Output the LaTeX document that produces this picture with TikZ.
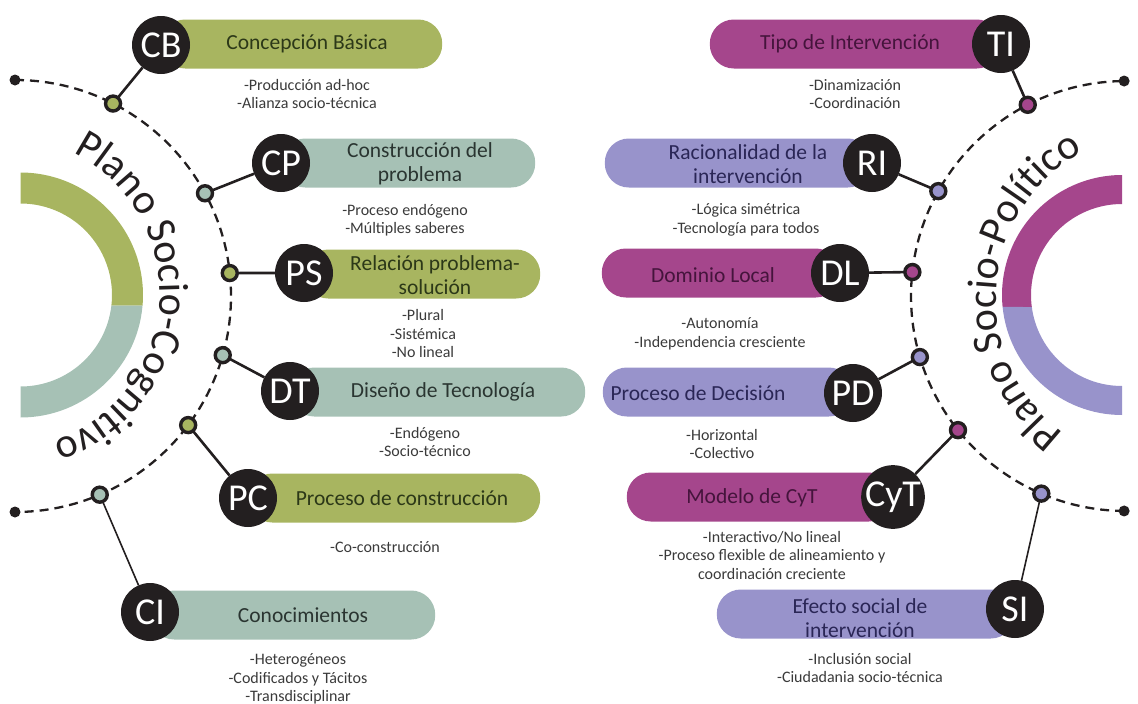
\documentclass[tikz,border=0pt]{standalone}
\usepackage{fontspec}
\setmainfont{Carlito}
\usetikzlibrary{calc,decorations.text}

\definecolor{cgreen}{HTML}{A8B560}
\definecolor{cteal}{HTML}{A6C1B5}
\definecolor{cmag}{HTML}{A5468C}
\definecolor{clav}{HTML}{9893CB}
\definecolor{cdark}{HTML}{231F20}
\definecolor{tgreen}{HTML}{2C3818}
\definecolor{tteal}{HTML}{2A3531}
\definecolor{tmag}{HTML}{45143C}
\definecolor{tlav}{HTML}{2A2656}
\definecolor{csub}{HTML}{3A3A3A}

\newcommand{\curvefont}{\fontsize{42}{44}\selectfont\color{cdark}}

\tikzset{
  bigc/.style={circle, fill=cdark, minimum size=58pt, inner sep=0pt, outer sep=0pt,
               text=white, font=\fontsize{38}{40}\selectfont},
  smallc/.style={circle, draw=cdark, line width=3.4pt, minimum size=15pt, inner sep=0pt, outer sep=0pt},
  enddot/.style={circle, fill=cdark, minimum size=11pt, inner sep=0pt},
  pillbox/.style={rectangle, rounded corners=24pt, minimum height=49pt, inner sep=0pt},
  ptext/.style={font=\fontsize{21.5}{24.5}\selectfont, align=center},
  subtext/.style={font=\fontsize{16}{18.5}\selectfont, align=center, text=csub},
  conn/.style={line width=2.6pt, draw=cdark},
  thinconn/.style={line width=1.6pt, draw=cdark},
  dashline/.style={line width=2.3pt, draw=cdark, dash pattern=on 9pt off 6pt},
}

\begin{document}
\begin{tikzpicture}[x=1pt,y=-1pt]
\useasboundingbox (0,0) rectangle (1138,704);

% centres of the two dashed arcs
\coordinate (Lc) at (15,296);
\coordinate (Rc) at (1126,296);

% half rings
\fill[cgreen] ([shift={(20.5,295)}]-90:122.5) arc[start angle=-90,end angle=5,radius=122.5]
  -- ([shift={(20.5,295)}]6.6:91.5) arc[start angle=6.6,end angle=-90,radius=91.5] -- cycle;
\fill[cteal] ([shift={(20.5,295)}]5:122.5) arc[start angle=5,end angle=90,radius=122.5]
  -- ([shift={(20.5,295)}]90:91.5) arc[start angle=90,end angle=6.6,radius=91.5] -- cycle;
\fill[cmag] ([shift={(1122,295)}]270:120) arc[start angle=270,end angle=174.3,radius=120]
  -- ([shift={(1122,295)}]172.4:91) arc[start angle=172.4,end angle=270,radius=91] -- cycle;
\fill[clav] ([shift={(1122,295)}]174.3:120) arc[start angle=174.3,end angle=90,radius=120]
  -- ([shift={(1122,295)}]90:91) arc[start angle=90,end angle=172.4,radius=91] -- cycle;

% curved titles
\path[decorate, decoration={text along path, text align=center,
    text={|\curvefont|Plano Socio-Cognitivo}}]
  ([shift={(3,293)}]-100:157) arc[start angle=-100,end angle=108,radius=157];
\path[decorate, decoration={text along path, text align=center,
    text={|\curvefont|Plano Socio-Político}}]
  ([shift={(1164,299)}]90:168) arc[start angle=90,end angle=278,radius=168];

% end dots and dashed arcs
\node[enddot] (Ltop) at ($(Lc)+(-90:216)$) {};
\node[enddot] (Lbot) at ($(Lc)+(90:216)$) {};
\node[enddot] (Rtop) at ($(Rc)+(269.5:215)$) {};
\node[enddot] (Rbot) at ($(Rc)+(90.5:215)$) {};
\draw[dashline] (Ltop.center) arc[start angle=-90,end angle=90,radius=216];
\draw[dashline] (Rbot.center) arc[start angle=90.5,end angle=269.5,radius=215];

% small junction circles, left
\node[smallc, fill=cgreen] (cb) at ($(Lc)+(-63:216)$) {};
\node[smallc, fill=cteal]  (cp) at ($(Lc)+(-28.4:216)$) {};
\node[smallc, fill=cgreen] (ps) at ($(Lc)+(-6.1:216)$) {};
\node[smallc, fill=cteal]  (dt) at ($(Lc)+(15.9:216)$) {};
\node[smallc, fill=cgreen] (pc) at ($(Lc)+(36.7:216)$) {};
\node[smallc, fill=cteal]  (ci) at ($(Lc)+(66.9:216)$) {};
% small junction circles, right
\node[smallc, fill=cmag] (ti)  at ($(Rc)+(242.8:215)$) {};
\node[smallc, fill=clav] (ri)  at ($(Rc)+(209.2:215)$) {};
\node[smallc, fill=cmag] (dl)  at ($(Rc)+(186.4:215)$) {};
\node[smallc, fill=clav] (pd)  at ($(Rc)+(163.5:215)$) {};
\node[smallc, fill=cmag] (cyt) at ($(Rc)+(141.4:215)$) {};
\node[smallc, fill=clav] (si)  at ($(Rc)+(113.2:215)$) {};

% pills, left
\node[pillbox, fill=cgreen, anchor=west, minimum width=281pt] (CBp) at (161,44) {};
\node[pillbox, fill=cteal,  anchor=west, minimum width=254pt] (CPp) at (281,163) {};
\node[pillbox, fill=cgreen, anchor=west, minimum width=236pt] (PSp) at (304,274) {};
\node[pillbox, fill=cteal,  anchor=west, minimum width=295pt] (DTp) at (290,392) {};
\node[pillbox, fill=cgreen, anchor=west, minimum width=292pt] (PCp) at (248,498) {};
\node[pillbox, fill=cteal,  anchor=west, minimum width=285pt] (CIp) at (150,615) {};
% pills, right
\node[pillbox, fill=cmag, anchor=east, minimum width=291pt] (TIp)  at (1001,44) {};
\node[pillbox, fill=clav, anchor=east, minimum width=267pt] (RIp)  at (872,163) {};
\node[pillbox, fill=cmag, anchor=east, minimum width=238pt] (DLp)  at (840,273) {};
\node[pillbox, fill=clav, anchor=east, minimum width=250pt] (PDp)  at (853,392) {};
\node[pillbox, fill=cmag, anchor=east, minimum width=266pt] (CyTp) at (893,497) {};
\node[pillbox, fill=clav, anchor=east, minimum width=298pt] (SIp)  at (1015,614) {};

% pill labels
\node[ptext, text=tgreen] (CBt) at (307,44) {Concepción Básica};
\node[ptext, text=tteal]  (CPt) at (420,164) {Construcción del\\problema};
\node[ptext, text=tgreen] (PSt) at (435,275) {Relación problema-\\solución};
\node[ptext, text=tteal]  (DTt) at (443,392) {Diseño de Tecnología};
\node[ptext, text=tgreen] (PCt) at (402,498) {Proceso de construcción};
\node[ptext, text=tteal]  (CIt) at (303,615) {Conocimientos};
\node[ptext, text=tmag] (TIt)  at (850,44) {Tipo de Intervención};
\node[ptext, text=tlav] (RIt)  at (748,164) {Racionalidad de la\\intervención};
\node[ptext, text=tmag] (DLt)  at (713,275) {Dominio Local};
\node[ptext, text=tlav] (PDt)  at (698,393) {Proceso de Decisión};
\node[ptext, text=tmag] (CyTt) at (752,498) {Modelo de CyT};
\node[ptext, text=tlav] (SIt)  at (860,618) {Efecto social de\\intervención};

% item lists
\node[subtext] (CBs) at (307,94) {-Producción ad-hoc\\-Alianza socio-técnica};
\node[subtext] (CPs) at (405,220) {-Proceso endógeno\\-Múltiples saberes};
\node[subtext] (PSs) at (423,334) {-Plural\\-Sistémica\\-No lineal};
\node[subtext] (DTs) at (425,442) {-Endógeno\\-Socio-técnico};
\node[subtext] (PCs) at (385,547) {-Co-construcción};
\node[subtext] (CIs) at (298,679) {-Heterogéneos\\-Codificados y Tácitos\\-Transdisciplinar};
\node[subtext] (TIs)  at (855,94) {-Dinamización\\-Coordinación};
\node[subtext] (RIs)  at (746,220) {-Lógica simétrica\\-Tecnología para todos};
\node[subtext] (DLs)  at (720,334) {-Autonomía\\-Independencia cresciente};
\node[subtext] (PDs)  at (722,444) {-Horizontal\\-Colectivo};
\node[subtext] (CyTs) at (772,555) {-Interactivo/No lineal\\-Proceso flexible de alineamiento y\\coordinación creciente};
\node[subtext] (SIs)  at (860,668) {-Inclusión social\\-Ciudadania socio-técnica};

% labelled circles
\node[bigc] (CB) at (161,45) {CB};
\node[bigc] (CP) at (281,163) {CP};
\node[bigc] (PS) at (304,273) {PS};
\node[bigc] (DT) at (290,391) {DT};
\node[bigc] (PC) at (248,498) {PC};
\node[bigc] (CI) at (150,612) {CI};
\node[bigc] (TI)  at (1001,44) {TI};
\node[bigc] (RI)  at (872,163) {RI};
\node[bigc] (DL)  at (840,273) {DL};
\node[bigc] (PD)  at (853,393) {PD};
\node[bigc] (CyT) at (893,497) {CyT};
\node[bigc] (SI)  at (1015,609) {SI};

% connectors
\draw[conn] (cb) -- (CB);
\draw[conn] (cp) -- (CP);
\draw[conn] (ps) -- (PS);
\draw[conn] (dt) -- (DT);
\draw[conn] (pc) -- (PC);
\draw[thinconn] (ci) -- (CI);
\draw[conn] (ti) -- (TI);
\draw[conn] (ri) -- (RI);
\draw[conn] (dl) -- (DL);
\draw[conn] (pd) -- (PD);
\draw[conn] (cyt) -- (CyT);
\draw[thinconn] (si) -- (SI);
\end{tikzpicture}
\end{document}
